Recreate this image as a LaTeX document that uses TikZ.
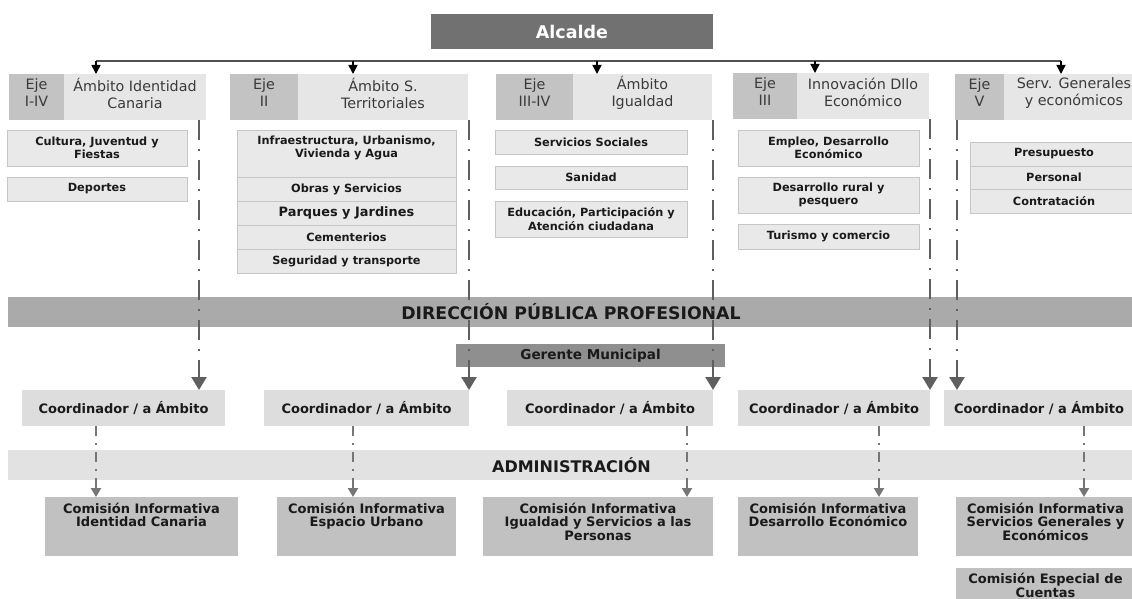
\documentclass[tikz,border=0pt]{standalone}
\usepackage{fontspec}
\setmainfont{DejaVu Sans}
\usetikzlibrary{arrows.meta}
\definecolor{calc}{HTML}{717171}
\definecolor{ceje}{HTML}{C3C3C3}
\definecolor{camb}{HTML}{E6E6E6}
\definecolor{csub}{HTML}{E9E9E9}
\definecolor{cbrd}{HTML}{C6C6C6}
\definecolor{cdir}{HTML}{AAAAAA}
\definecolor{cger}{HTML}{8F8F8F}
\definecolor{ccoo}{HTML}{DDDDDD}
\definecolor{cadm}{HTML}{E2E2E2}
\definecolor{ccom}{HTML}{C1C1C1}
\definecolor{txt}{HTML}{1A1A1A}
\definecolor{htext}{HTML}{3A3A3A}
\definecolor{cline}{HTML}{5F5F5F}
\definecolor{cline2}{HTML}{767676}
\definecolor{cbus}{HTML}{505050}
\newcommand\bx[7]{%
  \pgfmathsetmacro\bxw{(#5)-(#3)}\pgfmathsetmacro\bxh{(#6)-(#4)}%
  \pgfmathsetmacro\bxx{((#3)+(#5))/2}\pgfmathsetmacro\bxy{((#4)+(#6))/2}%
  \node[#2, minimum width=\bxw pt, minimum height=\bxh pt] (#1) at (\bxx,\bxy) {#7};}
\begin{document}
\begin{tikzpicture}[x=1pt,y=-1pt,
  base/.style={inner sep=0pt, outer sep=0pt, align=center, text=txt},
  alcbox/.style={base, fill=calc, text=white, font=\fontsize{17.5}{20}\selectfont\bfseries},
  ejebox/.style={base, fill=ceje},
  ambbox/.style={base, fill=camb},
  htxt/.style={base, text=htext, font=\fontsize{14.3}{17}\selectfont},
  subbox/.style={base, fill=csub, draw=cbrd, line width=0.8pt, font=\fontsize{11.3}{13.5}\selectfont\bfseries},
  bigsub/.style={subbox, font=\fontsize{12.9}{15}\selectfont\bfseries},
  dirbar/.style={base, fill=cdir, font=\fontsize{17.3}{20}\selectfont\bfseries},
  gerbox/.style={base, fill=cger, font=\fontsize{13.6}{16}\selectfont\bfseries},
  coobox/.style={base, fill=ccoo, font=\fontsize{13}{15}\selectfont\bfseries},
  admbar/.style={base, fill=cadm, font=\fontsize{16}{19}\selectfont\bfseries},
  combox/.style={base, fill=ccom, font=\fontsize{13}{14}\selectfont\bfseries},
  ctxt/.style={base, font=\fontsize{13}{13.5}\selectfont\bfseries},
  stxt/.style={base, font=\fontsize{11.3}{13}\selectfont\bfseries},
  busline/.style={draw=cbus, line width=2.5pt},
  busarrow/.style={draw=black, line width=1.5pt, -{Triangle[width=9pt,length=9pt]}},
  upline/.style={draw=cline, line width=2.5pt, dash pattern=on 20pt off 9pt on 2pt off 9pt, -{Triangle[width=15pt,length=13pt]}},
  lowline/.style={draw=cline2, line width=2pt, dash pattern=on 10pt off 7pt on 1.5pt off 7.5pt, -{Triangle[width=10pt,length=9pt]}}
]
\useasboundingbox (0,0) rectangle (1132,599);
\clip (0,0) rectangle (1132,599);

% Alcalde
\bx{alc}{alcbox}{431}{14}{713}{49}{Alcalde}

% headers
\bx{h1e}{ejebox}{9}{74}{64}{120}{}
\bx{h1a}{ambbox}{64}{74}{206}{120}{}
\bx{h2e}{ejebox}{230}{74}{298}{120}{}
\bx{h2a}{ambbox}{298}{74}{468}{120}{}
\bx{h3e}{ejebox}{496}{74}{573}{120}{}
\bx{h3a}{ambbox}{573}{74}{712}{120}{}
\bx{h4e}{ejebox}{733}{73}{797}{119}{}
\bx{h4a}{ambbox}{797}{73}{929}{119}{}
\bx{h5e}{ejebox}{955}{74}{1004}{120}{}
\bx{h5a}{ambbox}{1004}{74}{1144}{120}{}
\node[htxt] (h1et) at ([yshift=4pt]h1e.center) {Eje\\I-IV};
\node[htxt] (h1at) at ([yshift=4pt]h1a.center) {Ámbito Identidad\\Canaria};
\node[htxt] (h2et) at ([yshift=4pt]h2e.center) {Eje\\II};
\node[htxt] (h2at) at ([yshift=4pt]h2a.center) {Ámbito S.\\Territoriales};
\node[htxt] (h3et) at ([yshift=4pt]h3e.center) {Eje\\III-IV};
\node[htxt] (h3at) at ([yshift=4pt]h3a.center) {Ámbito\\Igualdad};
\node[htxt] (h4et) at ([yshift=4pt]h4e.center) {Eje\\III};
\node[htxt] (h4at) at ([yshift=4pt]h4a.center) {Innovación Dllo\\Económico};
\node[htxt] (h5et) at ([yshift=4pt]h5e.center) {Eje\\V};
\node[htxt] (h5at) at ([yshift=4pt]h5a.center) {Serv. Generales\\y económicos};

% sub boxes column 1
\bx{s11}{subbox}{7}{130}{187}{166}{Cultura, Juventud y\\Fiestas}
\bx{s12}{subbox}{7}{177}{187}{201}{Deportes}
% column 2
\bx{s21}{subbox}{237}{130}{456}{177}{}
\node[stxt, anchor=north] (s21t) at ([yshift=-6pt]s21.north) {Infraestructura, Urbanismo,\\Vivienda y Agua};
\bx{s22}{subbox}{237}{177}{456}{201}{Obras y Servicios}
\bx{s23}{bigsub}{237}{201}{456}{225}{Parques y Jardines}
\bx{s24}{subbox}{237}{225}{456}{249}{Cementerios}
\bx{s25}{subbox}{237}{249}{456}{273}{Seguridad y transporte}
% column 3
\bx{s31}{subbox}{495}{130}{687}{154}{Servicios Sociales}
\bx{s32}{subbox}{495}{166}{687}{189}{Sanidad}
\bx{s33}{subbox}{495}{201}{687}{237}{Educación, Participación y\\Atención ciudadana}
% column 4
\bx{s41}{subbox}{738}{130}{919}{166}{Empleo, Desarrollo\\Económico}
\bx{s42}{subbox}{738}{177}{919}{213}{Desarrollo rural y\\pesquero}
\bx{s43}{subbox}{738}{224}{919}{249}{Turismo y comercio}
% column 5
\bx{s51}{subbox}{970}{142}{1138}{166}{Presupuesto}
\bx{s52}{subbox}{970}{166}{1138}{189}{Personal}
\bx{s53}{subbox}{970}{189}{1138}{213}{Contratación}

% bars
\bx{dir}{dirbar}{8}{297}{1140}{327}{}
\node[base, font=\fontsize{17.3}{20}\selectfont\bfseries] (dirt) at (571,312) {DIRECCIÓN PÚBLICA PROFESIONAL};
\bx{ger}{gerbox}{456}{344}{725}{367}{Gerente Municipal}

% coordinators
\bx{c1}{coobox}{22}{390}{225}{426}{Coordinador / a Ámbito}
\bx{c2}{coobox}{264}{390}{469}{426}{Coordinador / a Ámbito}
\bx{c3}{coobox}{507}{390}{713}{426}{Coordinador / a Ámbito}
\bx{c4}{coobox}{738}{390}{930}{426}{Coordinador / a Ámbito}
\bx{c5}{coobox}{944}{390}{1134}{426}{Coordinador / a Ámbito}

\bx{adm}{admbar}{8}{450}{1140}{480}{}
\node[base, font=\fontsize{16}{19}\selectfont\bfseries] (admt) at (571.5,465) {ADMINISTRACIÓN};

% comisiones
\bx{m1}{combox}{45}{497}{238}{556}{}
\bx{m2}{combox}{277}{497}{456}{556}{}
\bx{m3}{combox}{483}{497}{713}{556}{}
\bx{m4}{combox}{738}{497}{918}{556}{}
\bx{m5}{combox}{956}{497}{1135}{556}{}
\bx{m6}{combox}{956}{568}{1135}{603}{Comisión Especial de\\Cuentas}
\node[ctxt, anchor=north] (m1t) at ([yshift=-6pt]m1.north) {Comisión Informativa\\Identidad Canaria};
\node[ctxt, anchor=north] (m2t) at ([yshift=-6pt]m2.north) {Comisión Informativa\\Espacio Urbano};
\node[ctxt, anchor=north] (m3t) at ([yshift=-6pt]m3.north) {Comisión Informativa\\Igualdad y Servicios a las\\Personas};
\node[ctxt, anchor=north] (m4t) at ([yshift=-6pt]m4.north) {Comisión Informativa\\Desarrollo Económico};
\node[ctxt, anchor=north] (m5t) at ([yshift=-6pt]m5.north) {Comisión Informativa\\Servicios Generales y\\Económicos};

% bus from Alcalde
\coordinate (b1) at (96,61);
\coordinate (b2) at (353,61);
\coordinate (b3) at (597,61);
\coordinate (b4) at (815,61);
\coordinate (b5) at (1061,61);
\draw[busline] (b1) -- (b5);
\draw[busarrow] (b1) -- (b1 |- h1a.north);
\draw[busarrow] (b2) -- (b2 |- h2a.north);
\draw[busarrow] (b3) -- (b3 |- h3a.north);
\draw[busarrow] (b4) -- (b4 |- h4a.north);
\draw[busarrow] (b5) -- (b5 |- h5a.north);

% upper dash-dot connectors
\coordinate (u1) at (199,0);
\coordinate (u2) at (469,0);
\coordinate (u3) at (713,0);
\coordinate (u4) at (930,0);
\coordinate (u5) at (957,0);
\draw[upline] (u1 |- h1a.south) -- (u1 |- c1.north);
\draw[upline] (u2 |- h2a.south) -- (u2 |- c2.north);
\draw[upline] (u3 |- h3a.south) -- (u3 |- c3.north);
\draw[upline] (u4 |- h4a.south) -- (u4 |- c4.north);
\draw[upline] (u5 |- h5e.south) -- (u5 |- c5.north);

% lower dash-dot connectors
\coordinate (d1) at (96,0);
\coordinate (d2) at (353,0);
\coordinate (d3) at (687,0);
\coordinate (d4) at (879,0);
\coordinate (d5) at (1084,0);
\draw[lowline] (d1 |- c1.south) -- (d1 |- m1.north);
\draw[lowline] (d2 |- c2.south) -- (d2 |- m2.north);
\draw[lowline] (d3 |- c3.south) -- (d3 |- m3.north);
\draw[lowline] (d4 |- c4.south) -- (d4 |- m4.north);
\draw[lowline] (d5 |- c5.south) -- (d5 |- m5.north);
\end{tikzpicture}
\end{document}
